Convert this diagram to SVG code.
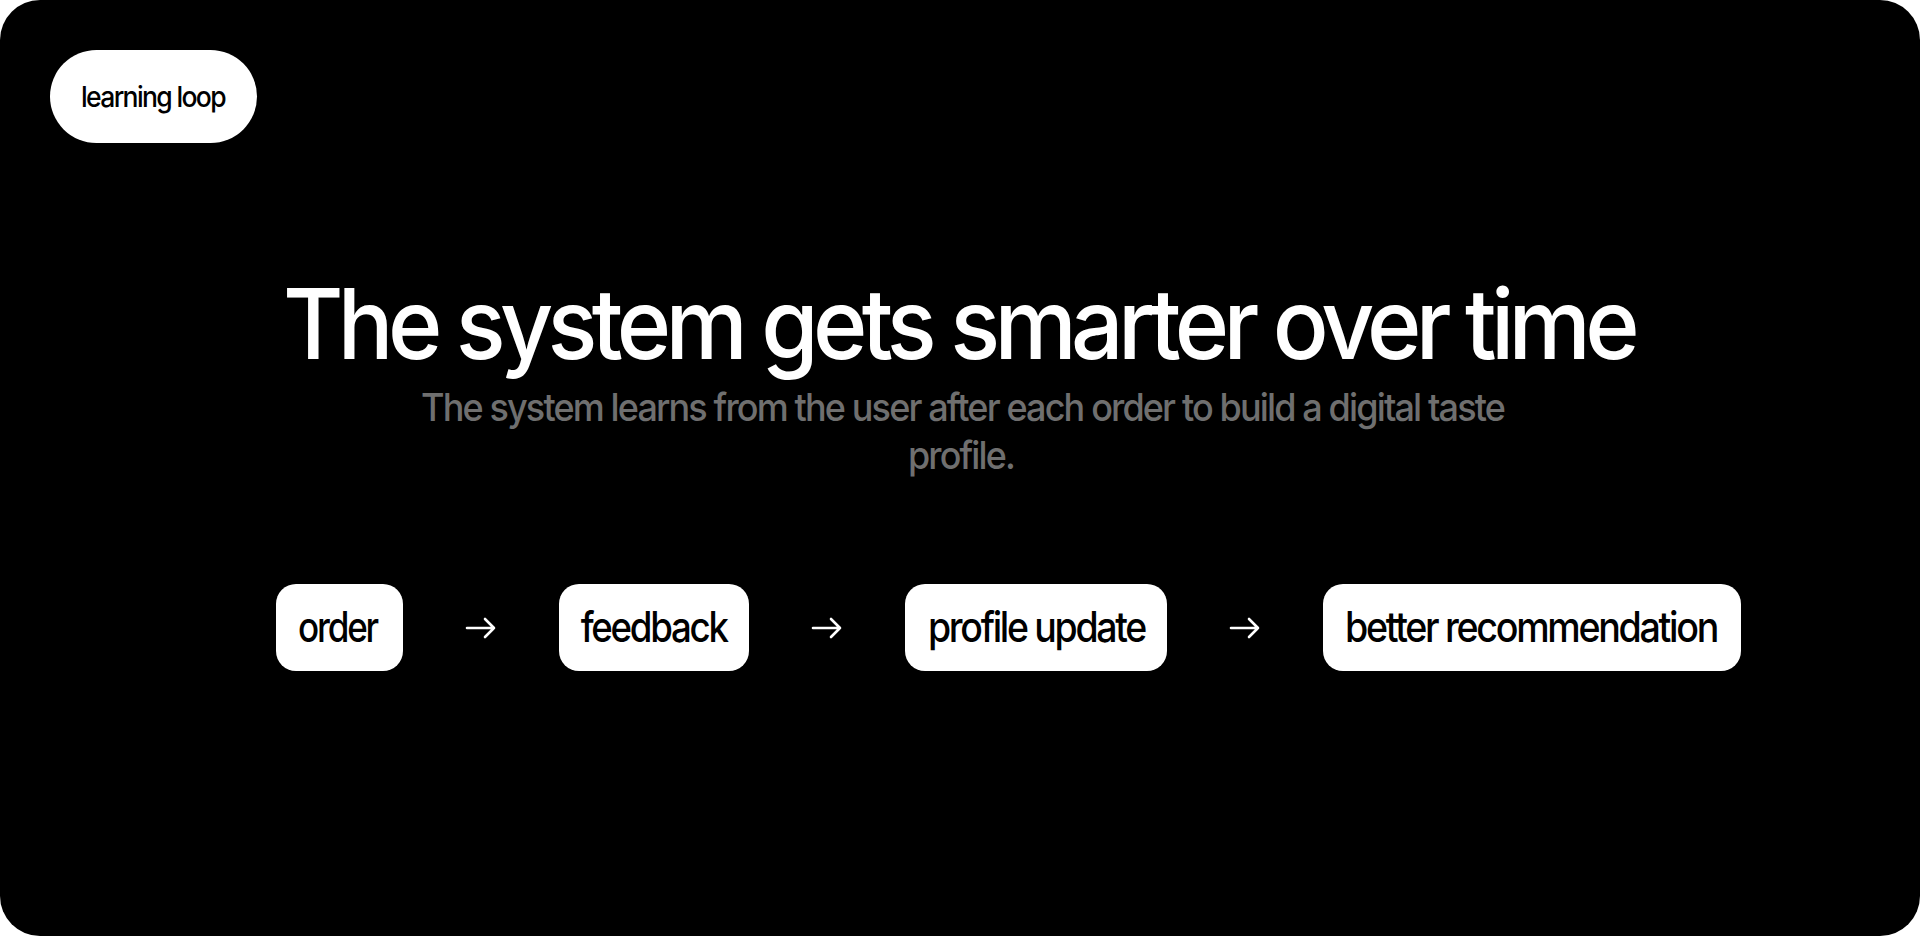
<svg xmlns="http://www.w3.org/2000/svg" width="1920" height="936" viewBox="0 0 1920 936">
  <style>
    .t { font-family: Inter, "Noto Sans", "Liberation Sans", sans-serif; }
    .box { fill: #ffffff; }
    .lbl { font-size: 42px; font-weight: 500; fill: #000000; letter-spacing: -2.6px; }
    .arrow { fill: none; stroke: #ffffff; stroke-width: 2.6; stroke-linecap: round; stroke-linejoin: round; }
  </style>
  <rect x="0" y="0" width="1920" height="936" fill="#ffffff"/>
  <rect id="card" x="0" y="0" width="1920" height="936" rx="40" ry="40" fill="#000000"/>

  <g id="tag">
    <rect x="50" y="50" width="207" height="93" rx="46.5" ry="46.5" class="box"/>
    <text class="t" x="153" y="107" font-size="29" font-weight="450" text-anchor="middle" fill="#000000" letter-spacing="-1.8" textLength="144" lengthAdjust="spacingAndGlyphs">learning loop</text>
  </g>

  <g id="title">
    <text class="t" x="958.5" y="359" font-size="98" font-weight="500" text-anchor="middle" fill="#ffffff" letter-spacing="-6" textLength="1351" lengthAdjust="spacingAndGlyphs">The system gets smarter over time</text>
  </g>

  <g id="subtitle" fill="#6f6f6f" font-weight="500">
    <text class="t" x="962.5" y="421" font-size="38.5" text-anchor="middle" letter-spacing="-2" textLength="1083" lengthAdjust="spacingAndGlyphs">The system learns from the user after each order to build a digital taste</text>
    <text class="t" x="961" y="469" font-size="38.5" text-anchor="middle" letter-spacing="-2" textLength="106" lengthAdjust="spacingAndGlyphs">profile.</text>
  </g>

  <g id="node-order">
    <rect x="276" y="584" width="127" height="87" rx="20" ry="20" class="box"/>
    <text class="t lbl" x="337.5" y="642" text-anchor="middle" textLength="79" lengthAdjust="spacingAndGlyphs">order</text>
  </g>

  <g id="node-feedback">
    <rect x="559" y="584" width="190" height="87" rx="20" ry="20" class="box"/>
    <text class="t lbl" x="653.7" y="642" text-anchor="middle" textLength="146" lengthAdjust="spacingAndGlyphs">feedback</text>
  </g>

  <g id="node-profile-update">
    <rect x="905" y="584" width="262" height="87" rx="20" ry="20" class="box"/>
    <text class="t lbl" x="1036.5" y="642" text-anchor="middle" textLength="217" lengthAdjust="spacingAndGlyphs">profile update</text>
  </g>

  <g id="node-better-recommendation">
    <rect x="1323" y="584" width="418" height="87" rx="20" ry="20" class="box"/>
    <text class="t lbl" x="1531" y="642" text-anchor="middle" textLength="372" lengthAdjust="spacingAndGlyphs">better recommendation</text>
  </g>

  <g id="connectors">
    <path class="arrow" d="M467 628 H494 M485 619 L494 628 L485 637"/>
    <path class="arrow" d="M813 628 H840 M831 619 L840 628 L831 637"/>
    <path class="arrow" d="M1231 628 H1258 M1249 619 L1258 628 L1249 637"/>
  </g>
</svg>
